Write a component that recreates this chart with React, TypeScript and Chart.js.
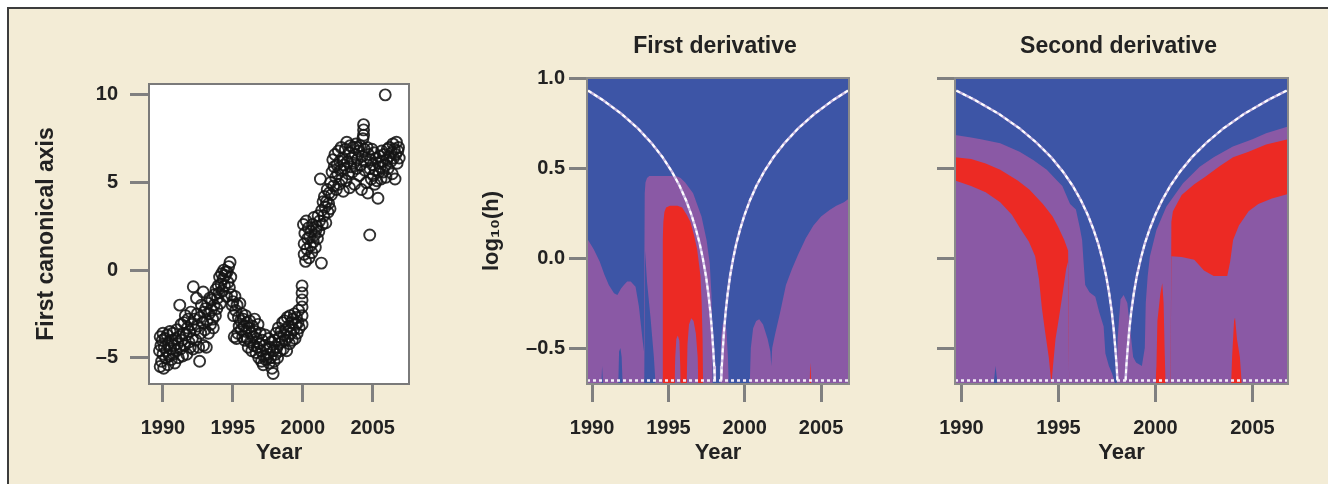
import React, { useEffect, useRef } from "react";
import { Chart, registerables } from "chart.js";
Chart.register(...registerables);

const FONT = "'Liberation Sans', Arial, Helvetica, sans-serif";
const BLUE = "#3d55a6";
const PURPLE = "#8a59a5";
const RED = "#ec2a24";
const TEXT = "#222222";
const TICKC = "#808080";

// ---------- Left panel: scatter ----------
const scatterYears = [
  1989.75, 1989.8, 1989.8, 1989.85, 1989.9, 1989.95, 1990.0, 1990.0, 1990.05,
  1990.1, 1990.15, 1990.2, 1990.25, 1990.3, 1990.35, 1990.4, 1990.45, 1990.5,
  1990.55, 1990.6, 1990.65, 1990.7, 1990.75, 1990.8, 1990.85, 1990.9, 1990.95,
  1991.0, 1991.05, 1991.1, 1991.15, 1991.2, 1991.25, 1991.3, 1991.35, 1991.4, 1991.45,
  1991.5, 1991.55, 1991.6, 1991.65, 1991.7, 1991.75, 1991.8, 1991.85, 1991.9, 1991.95,
  1992.0, 1992.05, 1992.1, 1992.15, 1992.17, 1992.25, 1992.3, 1992.35, 1992.4, 1992.45,
  1992.5, 1992.55, 1992.62, 1992.65, 1992.7, 1992.75, 1992.88, 1992.85, 1992.9, 1992.95,
  1993.0, 1993.05, 1993.1, 1993.15, 1993.2, 1993.25, 1993.3, 1993.35, 1993.4, 1993.45,
  1993.5, 1993.55, 1993.6, 1993.65, 1993.7, 1993.75, 1993.8, 1993.85, 1993.9, 1993.95,
  1994.0, 1994.05, 1994.1, 1994.15, 1994.2, 1994.25, 1994.3, 1994.35, 1994.4, 1994.45, 1994.5, 1994.55,
  1994.6, 1994.65, 1994.7, 1994.75, 1994.8, 1994.85, 1994.9, 1994.95,
  1995.0, 1995.05, 1995.1, 1995.15, 1995.2, 1995.26, 1995.3, 1995.35, 1995.4, 1995.45,
  1995.5, 1995.55, 1995.6, 1995.65, 1995.7, 1995.75, 1995.8, 1995.85, 1995.9, 1995.95,
  1996.0, 1996.05, 1996.1, 1996.15, 1996.2, 1996.25, 1996.3, 1996.35, 1996.4, 1996.45,
  1996.5, 1996.55, 1996.6, 1996.65, 1996.7, 1996.75, 1996.8, 1996.85, 1996.9, 1996.95,
  1997.0, 1997.05, 1997.1, 1997.17, 1997.2, 1997.25, 1997.3, 1997.35, 1997.4, 1997.45,
  1997.5, 1997.55, 1997.6, 1997.65, 1997.7, 1997.75, 1997.8, 1997.88, 1997.9, 1997.95,
  1998.0, 1998.05, 1998.1, 1998.15, 1998.2, 1998.25, 1998.3, 1998.35, 1998.4, 1998.45,
  1998.5, 1998.55, 1998.6, 1998.65, 1998.7, 1998.75, 1998.8, 1998.85, 1998.9, 1998.95,
  1999.0, 1999.05, 1999.1, 1999.15, 1999.2, 1999.25, 1999.3, 1999.35, 1999.4, 1999.45,
  1999.5, 1999.55, 1999.6, 1999.65, 1999.7, 1999.75, 1999.95, 1999.95, 1999.95, 1999.95, 1999.95, 1999.95,
  2000.05, 2000.1, 2000.1, 2000.15, 2000.2, 2000.25, 2000.3, 2000.35, 2000.4, 2000.45,
  2000.5, 2000.55, 2000.6, 2000.65, 2000.7, 2000.75, 2000.8, 2000.85, 2000.9, 2000.95,
  2001.0, 2001.05, 2001.1, 2001.15, 2001.2, 2001.26, 2001.33, 2001.35, 2001.4, 2001.45,
  2001.5, 2001.55, 2001.6, 2001.65, 2001.7, 2001.75, 2001.8, 2001.85, 2001.9, 2001.95,
  2002.0, 2002.05, 2002.1, 2002.15, 2002.2, 2002.25, 2002.3, 2002.35, 2002.4, 2002.45,
  2002.5, 2002.55, 2002.6, 2002.65, 2002.7, 2002.75, 2002.8, 2002.85, 2002.9, 2002.95,
  2003.0, 2003.05, 2003.1, 2003.15, 2003.2, 2003.25, 2003.3, 2003.35, 2003.4, 2003.45,
  2003.5, 2003.55, 2003.6, 2003.65, 2003.7, 2003.75, 2003.8, 2003.85, 2003.9, 2003.95,
  2004.0, 2004.05, 2004.1, 2004.15, 2004.2, 2004.25, 2004.3, 2004.35, 2004.35, 2004.35, 2004.4, 2004.45,
  2004.5, 2004.55, 2004.6, 2004.65, 2004.7, 2004.79, 2004.8, 2004.85, 2004.9, 2004.95,
  2005.0, 2005.05, 2005.1, 2005.15, 2005.2, 2005.25, 2005.3, 2005.38, 2005.4, 2005.45,
  2005.5, 2005.55, 2005.6, 2005.65, 2005.7, 2005.75, 2005.8, 2005.9, 2005.9, 2005.95,
  2006.0, 2006.05, 2006.1, 2006.15, 2006.2, 2006.3, 2006.35, 2006.4, 2006.45, 2006.5,
  2006.55, 2006.6, 2006.65, 2006.7, 2006.75, 2006.8, 2006.85, 2006.9,
];
const scatterValues = [
  -4.6, -5.5, -3.8, -4.3, -5.2, -4.0, -3.6, -4.8, -5.6,
  -4.4, -3.9, -5.0, -4.6, -3.7, -5.4, -4.2, -4.9, -3.5,
  -4.5, -5.1, -4.0, -3.6, -4.8, -4.3, -5.3, -3.9, -4.6,
  -3.4, -4.2, -5.0, -3.8, -2.0, -4.5, -3.1, -4.0, -4.9, -3.6,
  -3.0, -4.3, -2.6, -3.7, -4.8, -3.3, -2.8, -4.1, -3.5, -4.4,
  -2.4, -3.1, -3.9, -4.5, -0.95, -2.8, -3.4, -4.0, -1.6, -2.5,
  -3.2, -4.4, -5.2, -2.7, -3.6, -2.0, -1.25, -3.0, -4.3, -2.4,
  -3.4, -2.2, -4.4, -2.9, -1.9, -3.6, -2.5, -1.6, -3.1, -2.3,
  -1.7, -2.8, -3.3, -2.0, -1.4, -2.6, -1.1, -2.2, -1.6, -0.9,
  -1.3, -0.4, -1.9, -0.8, -0.2, -1.2, -0.5, 0.0, -0.9, -0.3, -0.1, -1.5,
  -0.1, -0.7, 0.2, -1.0, 0.45, -0.4, -1.4, -2.0,
  -1.8, -2.6, -3.8, -1.5, -2.3, -3.9, -2.0, -3.6, -2.7, -3.2,
  -1.9, -2.9, -3.4, -2.5, -3.8, -2.8, -3.2, -4.0, -2.6, -3.5,
  -3.0, -3.9, -4.4, -3.3, -2.9, -4.1, -3.6, -4.6, -3.2, -3.8,
  -4.3, -2.8, -3.5, -4.7, -3.9, -4.4, -3.1, -5.0, -4.2, -3.6,
  -4.6, -5.2, -4.0, -5.4, -4.9, -4.3, -3.7, -5.1, -4.5, -5.0,
  -4.8, -3.9, -5.3, -4.4, -5.0, -4.1, -5.6, -5.9, -4.6, -5.2,
  -4.0, -4.8, -3.6, -4.4, -5.0, -3.3, -4.2, -3.8, -4.6, -3.5,
  -4.1, -3.0, -4.5, -3.7, -2.9, -4.0, -3.4, -4.6, -2.7, -3.8,
  -3.2, -4.2, -2.6, -3.6, -3.0, -4.0, -2.8, -3.4, -2.5, -3.9,
  -3.1, -2.7, -3.6, -3.0, -2.3, -3.3, -0.9, -1.3, -1.7, -2.1, -2.6, -3.1,
  2.6, 0.9, 1.5, 2.1, 0.5, 2.8, 1.2, 1.8, 2.4, 0.7,
  1.9, 1.4, 2.2, 1.0, 2.6, 1.6, 3.0, 2.0, 1.3, 2.3,
  2.5, 1.8, 3.1, 2.2, 2.8, 5.2, 0.4, 3.4, 2.6, 3.9,
  3.1, 4.2, 3.6, 2.7, 3.9, 4.6, 3.3, 3.8, 4.4, 3.5,
  5.0, 4.3, 5.6, 6.3, 4.8, 5.9, 6.6, 5.3, 4.6, 6.0,
  5.5, 6.8, 4.9, 6.2, 5.7, 7.0, 5.2, 6.4, 4.5, 6.0,
  5.8, 6.9, 5.1, 7.3, 6.2, 5.5, 6.7, 4.7, 7.1, 5.9,
  6.4, 5.6, 7.0, 6.1, 4.9, 6.6, 7.2, 5.8, 6.3, 7.0,
  6.8, 5.4, 7.1, 6.0, 4.6, 6.5, 7.5, 8.3, 8.0, 7.7, 6.9, 5.7,
  6.2, 5.0, 7.0, 4.4, 6.6, 2.0, 5.8, 6.3, 5.2, 6.9,
  6.0, 5.4, 6.7, 4.9, 5.7, 6.4, 5.1, 4.1, 6.1, 5.6,
  6.5, 5.9, 5.2, 6.8, 6.2, 5.6, 6.6, 10.0, 6.0, 5.3,
  6.3, 6.9, 5.8, 6.5, 7.0, 6.2, 6.7, 5.5, 7.2, 6.4,
  6.9, 5.2, 6.6, 7.3, 6.1, 6.8, 7.0, 6.4,
];
const scatterYearTicks = [1990, 1995, 2000, 2005];
const scatterValueTicks = [-5, 0, 5, 10];

// ---------- SiZer maps (x = year, y = log10(h)) ----------
const mapYearTicks = [1990, 1995, 2000, 2005];
const mapLogTicks = [-0.5, 0, 0.5, 1.0];

// First derivative: top of purple zone
const fdPurpleX = [1989.67, 1990.1, 1990.5, 1990.8, 1991.1, 1991.44, 1991.66, 1991.9, 1992.09, 1992.3, 1992.53, 1992.85, 1993.07, 1993.29, 1993.4, 1993.45, 1993.5, 1993.6, 1993.75, 1995.5, 1995.8, 1996.1, 1996.62, 1997.17, 1997.5, 1997.71, 1997.82, 1997.87, 1997.9, 1998.4, 1998.45, 1998.55, 1998.7, 1998.8, 1998.9, 1998.95, 2000.33, 2000.4, 2000.55, 2000.75, 2000.95, 2001.2, 2001.5, 2001.68, 2001.74, 2001.8, 2002.0, 2002.3, 2002.7, 2003.1, 2003.5, 2004.0, 2004.5, 2005.0, 2005.56, 2006.0, 2006.5, 2006.83];
const fdPurpleY = [0.11, 0.05, -0.02, -0.09, -0.15, -0.196, -0.205, -0.17, -0.15, -0.13, -0.13, -0.16, -0.27, -0.44, -0.52, 0.36, 0.42, 0.445, 0.455, 0.455, 0.445, 0.42, 0.36, 0.23, 0.1, -0.03, -0.2, -0.4, -0.7, -0.7, -0.45, -0.37, -0.36, -0.4, -0.55, -0.7, -0.7, -0.5, -0.39, -0.35, -0.34, -0.37, -0.45, -0.52, -0.6, -0.5, -0.42, -0.31, -0.15, -0.06, 0.02, 0.11, 0.18, 0.23, 0.267, 0.29, 0.31, 0.33];
// First derivative: top of red zone
const fdRedX = [1994.6, 1994.63, 1994.67, 1994.74, 1994.85, 1995.1, 1995.6, 1995.9, 1996.2, 1996.45, 1996.7, 1996.88, 1997.0, 1997.1, 1997.18, 1997.24, 1997.27];
const fdRedY = [-0.7, 0.1, 0.2, 0.255, 0.28, 0.29, 0.29, 0.28, 0.24, 0.2, 0.12, 0.05, -0.03, -0.1, -0.25, -0.45, -0.7];
// First derivative: purple fingers under the red zone
const fdUnderX = [1995.4, 1995.45, 1995.52, 1995.62, 1995.72, 1995.78, 1995.8, 1996.2, 1996.25, 1996.35, 1996.5, 1996.65, 1996.8, 1996.92, 1996.96];
const fdUnderY = [-0.7, -0.55, -0.45, -0.43, -0.46, -0.6, -0.7, -0.7, -0.48, -0.37, -0.335, -0.35, -0.42, -0.55, -0.7];
// First derivative: small red spikes from the bottom
const fdSpikeX = [2004.24, 2004.3, 2004.36];
const fdSpikeY = [-0.7, -0.58, -0.7];
// First derivative: blue intrusions from the bottom
const fdBlueLowX = [1990.6, 1990.66, 1990.72, 1991.72, 1991.77, 1991.86, 1991.94, 1992.0, 1993.42, 1993.47, 1993.61, 1993.83, 1994.05, 1994.16];
const fdBlueLowY = [-0.7, -0.6, -0.7, -0.7, -0.52, -0.5, -0.55, -0.7, -0.7, 0.04, -0.14, -0.33, -0.55, -0.7];

// Second derivative: top of purple zone
const sdPurpleX = [1989.67, 1990.5, 1991.0, 1992.0, 1993.0, 1993.7, 1994.4, 1994.9, 1995.2, 1995.6, 1995.9, 1996.1, 1996.22, 1996.3, 1996.38, 1996.6, 1996.9, 1997.1, 1997.33, 1997.42, 1997.6, 1997.76, 1997.93, 1998.0, 1998.05, 1998.2, 1998.36, 1998.55, 1998.75, 1998.85, 1999.0, 1999.3, 1999.45, 1999.5, 1999.6, 1999.71, 2000.05, 2000.56, 2001.42, 2002.28, 2003.0, 2003.99, 2005.0, 2005.7, 2006.83];
const sdPurpleY = [0.683, 0.67, 0.66, 0.637, 0.59, 0.544, 0.49, 0.433, 0.4, 0.3, 0.27, 0.17, 0.1, -0.03, -0.15, -0.19, -0.215, -0.3, -0.38, -0.53, -0.6, -0.64, -0.7, -0.7, -0.45, -0.23, -0.205, -0.25, -0.45, -0.55, -0.58, -0.6, -0.5, -0.25, -0.1, 0.007, 0.156, 0.285, 0.415, 0.507, 0.56, 0.619, 0.66, 0.693, 0.73];
// Second derivative: top of red bands
const sdRedX = [1989.67, 1990.5, 1991.25, 1992.0, 1992.9, 1993.5, 1994.2, 1994.7, 1995.0, 1995.3, 1995.5, 1995.55, 2000.78, 2000.82, 2000.9, 2001.35, 2002.0, 2002.55, 2003.3, 2004.0, 2004.8, 2005.7, 2006.83];
const sdRedY = [0.56, 0.55, 0.525, 0.49, 0.43, 0.38, 0.3, 0.23, 0.17, 0.1, 0.04, -0.7, -0.7, 0.2, 0.26, 0.35, 0.41, 0.45, 0.51, 0.56, 0.59, 0.63, 0.66];
// Second derivative: purple under the red bands
const sdUnderX = [1989.67, 1990.5, 1991.25, 1992.0, 1992.6, 1993.0, 1993.48, 1993.8, 1994.0, 1994.15, 1994.3, 1994.5, 1994.64, 1994.72, 1994.85, 1995.0, 1995.2, 1995.4, 1995.5, 1995.55, 2000.78, 2000.82, 2001.35, 2002.0, 2002.5, 2003.0, 2003.7, 2003.85, 2004.0, 2004.3, 2004.8, 2005.3, 2006.0, 2006.83];
const sdUnderY = [0.43, 0.4, 0.365, 0.31, 0.24, 0.17, 0.09, 0.01, -0.12, -0.28, -0.4, -0.55, -0.7, -0.6, -0.45, -0.35, -0.21, -0.06, -0.02, -0.7, -0.7, 0.01, 0.005, -0.01, -0.07, -0.1, -0.1, -0.02, 0.1, 0.18, 0.26, 0.3, 0.33, 0.355];
// Second derivative: red spikes from the bottom
const sdSpikeX = [2000.0, 2000.05, 2000.1, 2000.25, 2000.35, 2000.42, 2000.47, 2000.52, 2003.9, 2003.95, 2004.05, 2004.1, 2004.2, 2004.35, 2004.45];
const sdSpikeY = [-0.7, -0.6, -0.35, -0.2, -0.14, -0.25, -0.5, -0.7, -0.7, -0.55, -0.35, -0.33, -0.45, -0.55, -0.7];
// Second derivative: blue intrusion from the bottom
const sdBlueLowX = [1991.66, 1991.76, 1991.86];
const sdBlueLowY = [-0.7, -0.6, -0.7];

// White guide curves (log10 h levels and their year positions)
const curveLevels = [0.93, 0.88, 0.8, 0.72, 0.64, 0.56, 0.48, 0.4, 0.32, 0.24, 0.16, 0.08, 0, -0.1, -0.2, -0.3, -0.4, -0.5, -0.6, -0.68];
const curveLeftYears = [1989.74, 1990.66, 1991.94, 1993.0, 1993.88, 1994.62, 1995.23, 1995.74, 1996.16, 1996.51, 1996.8, 1997.05, 1997.25, 1997.46, 1997.62, 1997.75, 1997.85, 1997.93, 1998.0, 1998.04];
const curveRightYears = [2006.76, 2005.84, 2004.56, 2003.5, 2002.62, 2001.88, 2001.27, 2000.76, 2000.34, 1999.99, 1999.7, 1999.45, 1999.25, 1999.04, 1998.88, 1998.75, 1998.65, 1998.57, 1998.5, 1998.46];
const rugLevel = -0.68;
const mapYearRange = [1989.67, 2006.83];
const mapLogRange = [-0.7, 1.0];

// ---------- helpers ----------
function pts(xs: number[], ys: number[]) {
  return xs.map((x, i) => ({ x, y: ys[i] }));
}
function dashNum(v: number, digits: number) {
  const s = Math.abs(v).toFixed(digits);
  return v < 0 ? "\u2013" + s : s;
}
function layer(xs: number[], ys: number[], color: string, order: number) {
  return {
    data: pts(xs, ys),
    borderColor: "rgba(0,0,0,0)",
    borderWidth: 0,
    backgroundColor: color,
    fill: "start",
    pointRadius: 0,
    tension: 0,
    order,
  };
}
function lineDs(xs: number[], ys: number[], color: string, width: number, order: number, dash?: number[]) {
  return {
    data: pts(xs, ys),
    borderColor: color,
    borderWidth: width,
    borderDash: dash || [],
    fill: false,
    pointRadius: 0,
    tension: 0,
    order,
  };
}

const panelPlugin = {
  id: "panelDeco",
  beforeDatasetsDraw(chart: any, _a: any, opts: any) {
    const { ctx, chartArea: a } = chart;
    if (opts.bg) {
      ctx.save();
      ctx.fillStyle = opts.bg;
      ctx.fillRect(a.left, a.top, a.right - a.left, a.bottom - a.top);
      ctx.restore();
    }
  },
  afterDatasetsDraw(chart: any, _a: any, opts: any) {
    const { ctx, chartArea: a } = chart;
    ctx.save();
    ctx.strokeStyle = opts.frame || "#808080";
    ctx.lineWidth = 2;
    ctx.strokeRect(a.left, a.top, a.right - a.left, a.bottom - a.top);
    if (opts.title) {
      ctx.fillStyle = TEXT;
      ctx.font = "bold 23px " + FONT;
      ctx.textAlign = "center";
      ctx.textBaseline = "middle";
      ctx.fillText(opts.title, (a.left + a.right) / 2 - 3, opts.titleY);
    }
    ctx.restore();
  },
};

function xScale(min: number, max: number, ticks: number[], height: number, titlePadBottom: number) {
  return {
    type: "linear",
    min,
    max,
    afterBuildTicks: (s: any) => {
      s.ticks = ticks.map((v) => ({ value: v }));
    },
    afterFit: (s: any) => {
      s.height = height;
    },
    grid: { drawOnChartArea: false, drawTicks: true, tickLength: 18, color: TICKC, lineWidth: 3 },
    border: { display: false },
    ticks: {
      autoSkip: false,
      maxRotation: 0,
      padding: 14,
      color: TEXT,
      font: { family: FONT, size: 20, weight: "bold" },
      callback: (v: any) => String(v),
    },
    title: {
      display: true,
      text: "Year",
      color: TEXT,
      font: { family: FONT, size: 22, weight: "bold" },
      padding: { top: 0, bottom: titlePadBottom },
    },
  };
}

function mapConfig(
  purple: [number[], number[]],
  red: [number[], number[]],
  under: [number[], number[]],
  spikes: [number[], number[]],
  blueLow: [number[], number[]],
  title: string,
  yWidth: number,
  showYLabels: boolean
) {
  const [x0, x1] = mapYearRange;
  return {
    type: "line",
    data: {
      datasets: [
        layer(purple[0], purple[1], PURPLE, 20),
        layer(red[0], red[1], RED, 19),
        layer(under[0], under[1], PURPLE, 18),
        layer(spikes[0], spikes[1], RED, 17),
        layer(blueLow[0], blueLow[1], BLUE, 16),
        lineDs(curveLeftYears, curveLevels, "#cdbde4", 2.5, 10),
        lineDs(curveRightYears, curveLevels, "#cdbde4", 2.5, 10),
        lineDs(curveLeftYears, curveLevels, "#ffffff", 2, 9, [4, 3]),
        lineDs(curveRightYears, curveLevels, "#ffffff", 2, 9, [4, 3]),
        lineDs([x0, x1], [rugLevel, rugLevel], "#f4eef8", 2.5, 8, [3, 3]),
      ],
    },
    options: {
      responsive: false,
      animation: false,
      devicePixelRatio: 1,
      layout: { padding: { top: 78, right: showYLabels ? 21 : 40, left: 0, bottom: 0 } },
      plugins: {
        legend: { display: false },
        tooltip: { enabled: false },
        panelDeco: { bg: BLUE, frame: "#8a8a8a", title, titleY: 47 },
      },
      scales: {
        x: xScale(x0, x1, mapYearTicks, 100, 18),
        y: {
          type: "linear",
          min: mapLogRange[0],
          max: mapLogRange[1],
          afterBuildTicks: (s: any) => {
            s.ticks = mapLogTicks.map((v) => ({ value: v }));
          },
          afterFit: (s: any) => {
            s.width = yWidth;
          },
          grid: { drawOnChartArea: false, drawTicks: true, tickLength: 18, color: TICKC, lineWidth: 3 },
          border: { display: false },
          ticks: {
            autoSkip: false,
            padding: 4,
            color: showYLabels ? TEXT : "rgba(0,0,0,0)",
            font: { family: FONT, size: 20, weight: "bold" },
            callback: (v: any) => dashNum(Number(v), 1),
          },
          title: {
            display: showYLabels,
            text: "log\u2081\u2080(h)",
            color: TEXT,
            font: { family: FONT, size: 22, weight: "bold" },
            padding: { top: 29, bottom: 0 },
          },
        },
      },
    },
  };
}

function scatterConfig() {
  return {
    type: "scatter",
    data: {
      datasets: [
        {
          data: pts(scatterYears, scatterValues),
          pointRadius: 5.5,
          pointBorderWidth: 1.9,
          pointBackgroundColor: "rgba(0,0,0,0)",
          pointBorderColor: "rgba(20,20,20,0.88)",
        },
      ],
    },
    options: {
      responsive: false,
      animation: false,
      devicePixelRatio: 1,
      layout: { padding: { top: 19, right: 21, left: 0, bottom: 0 } },
      plugins: {
        legend: { display: false },
        tooltip: { enabled: false },
        panelDeco: { bg: "#ffffff", frame: "#7a7a7a" },
      },
      scales: {
        x: xScale(1989.0, 2007.6, scatterYearTicks, 96, 14),
        y: {
          type: "linear",
          min: -6.5,
          max: 10.62,
          afterBuildTicks: (s: any) => {
            s.ticks = scatterValueTicks.map((v) => ({ value: v }));
          },
          afterFit: (s: any) => {
            s.width = 129;
          },
          grid: { drawOnChartArea: false, drawTicks: true, tickLength: 19, color: TICKC, lineWidth: 3 },
          border: { display: false },
          ticks: {
            autoSkip: false,
            padding: 12,
            color: TEXT,
            font: { family: FONT, size: 20, weight: "bold" },
            callback: (v: any) => dashNum(Number(v), 0),
          },
          title: {
            display: true,
            text: "First canonical axis",
            color: TEXT,
            font: { family: FONT, size: 23, weight: "bold" },
            padding: { top: 13, bottom: 0 },
          },
        },
      },
    },
  };
}

function ChartBox(props: { left: number; top: number; width: number; height: number; make: () => any }) {
  const ref = useRef<HTMLCanvasElement>(null);
  useEffect(() => {
    const cfg = props.make();
    cfg.plugins = [panelPlugin];
    const chart = new Chart(ref.current as HTMLCanvasElement, cfg);
    return () => chart.destroy();
  }, []);
  return (
    <canvas
      ref={ref}
      width={props.width}
      height={props.height}
      style={{ position: "absolute", left: props.left, top: props.top, width: props.width, height: props.height }}
    />
  );
}

export default function App() {
  return (
    <div style={{ position: "fixed", left: 0, top: 0, width: 1328, height: 484, background: "#ffffff", overflow: "hidden" }}>
      <div
        style={{
          position: "absolute",
          left: 7,
          top: 7,
          right: 0,
          bottom: 0,
          background: "#f3ecd6",
          borderTop: "2px solid #3c3c3c",
          borderLeft: "2px solid #3c3c3c",
        }}
      />
      <ChartBox left={20} top={60} width={410} height={420} make={scatterConfig} />
      <ChartBox
        left={450}
        top={0}
        width={420}
        height={484}
        make={() =>
          mapConfig(
            [fdPurpleX, fdPurpleY],
            [fdRedX, fdRedY],
            [fdUnderX, fdUnderY],
            [fdSpikeX, fdSpikeY],
            [fdBlueLowX, fdBlueLowY],
            "First derivative",
            137,
            true
          )
        }
      />
      <ChartBox
        left={880}
        top={0}
        width={448}
        height={484}
        make={() =>
          mapConfig(
            [sdPurpleX, sdPurpleY],
            [sdRedX, sdRedY],
            [sdUnderX, sdUnderY],
            [sdSpikeX, sdSpikeY],
            [sdBlueLowX, sdBlueLowY],
            "Second derivative",
            75,
            false
          )
        }
      />
    </div>
  );
}
